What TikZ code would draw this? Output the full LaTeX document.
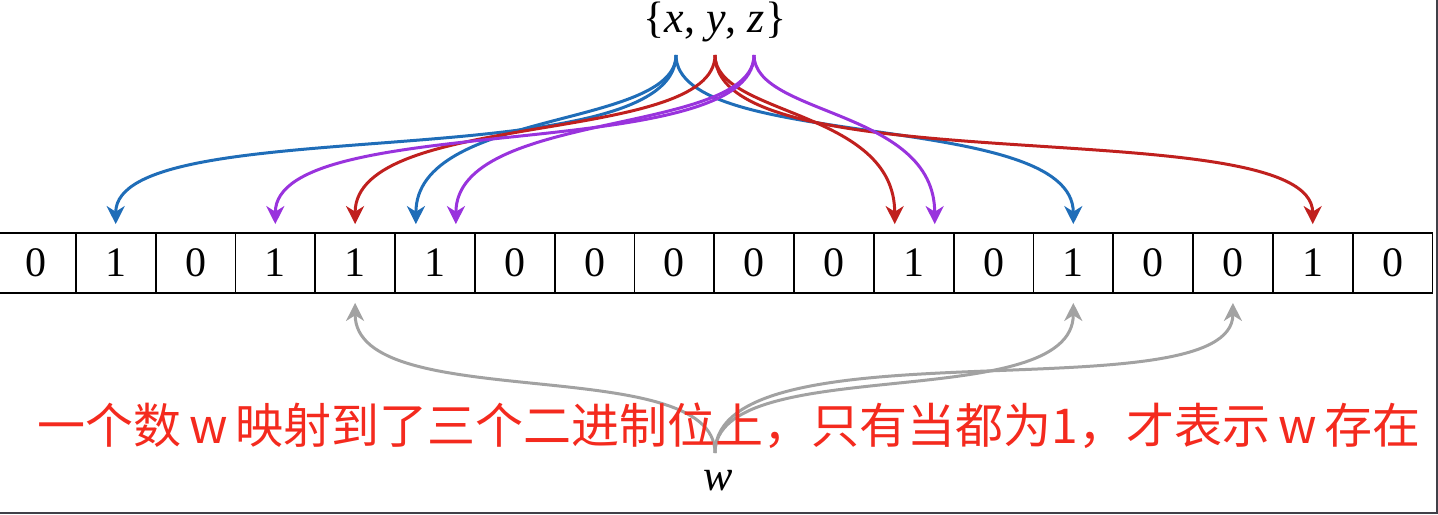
\documentclass[tikz,border=0pt]{standalone}
\usepackage{fontspec}
\setmainfont{Liberation Serif}
\newfontfamily\cjkfont{Noto Sans CJK SC}
\usepackage{xcolor}
\usepackage{tikz}
\usetikzlibrary{arrows.meta,backgrounds}
\definecolor{xhash}{HTML}{1F6DB8}
\definecolor{yhash}{HTML}{C0201E}
\definecolor{zhash}{HTML}{9933DD}
\definecolor{whash}{HTML}{A2A2A2}
\definecolor{notered}{HTML}{F42A1E}
\definecolor{framecolor}{HTML}{404048}
\tikzset{
  >={Stealth[length=9pt,width=9pt,inset=2.8pt]},
  bit cell/.style={
    draw=black,
    line width=0.9pt,
    minimum width=39.9pt,
    minimum height=30pt,
    inner sep=0pt,
    font=\fontsize{21}{21}\selectfont
  },
  hash arrow/.style={
    line width=1.5pt,
    ->,
    shorten >=4pt
  },
  query arrow/.style={
    draw=whash,
    line width=1.5pt,
    ->,
    shorten >=4.5pt
  },
  set label/.style={
    font=\fontsize{22}{22}\selectfont,
    inner sep=0pt
  },
  note/.style={
    font=\cjkfont\fontsize{24}{24}\selectfont,
    text=notered,
    inner sep=0pt
  },
  frame line/.style={
    draw=framecolor,
    line width=1pt
  }
}
\newcommand{\hashdown}[3]{%
  \begin{scope}[on background layer]
    \foreach \tgt/\dx/\lift in {#3}{
      \draw[hash arrow,draw=#1] (#2) .. controls +(0,\lift) and +(0,-123)
        .. ([xshift=\dx pt]B-\tgt.north);
    }
  \end{scope}
}
\newcommand{\hashup}[2]{%
  \begin{scope}[on background layer]
    \foreach \tgt/\lift in {#2}{
      \draw[query arrow] (#1) .. controls +(0,-\lift) and +(0,122)
        .. (B-\tgt.south);
    }
  \end{scope}
}
\newcommand{\wgap}{\hspace{0.16em}}

\begin{document}
\begin{tikzpicture}[x=0.5pt,y=-0.5pt]
  \useasboundingbox (0,0) rectangle (1438,514);

  \foreach \b [count=\i] in {0,1,0,1,1,1,0,0,0,0,0,1,0,1,0,0,1,0}{
    \node[bit cell] (B-\i) at ({-4+79.8*(\i-0.5)},263) {\b};
  }

  \node[set label] (S) at (715,22) {\{\textit{x}, \textit{y}, \textit{z}\}};
  \coordinate (S-x) at (676,55);
  \coordinate (S-y) at (715,55);
  \coordinate (S-z) at (754,55);

  \node[set label] (W) at (718,481) {\textit{w}};
  \coordinate (S-w) at (715,453);

  \hashdown{xhash}{S-x}{2/0/125, 6/-9.5/74, 14/0/97}
  \hashdown{yhash}{S-y}{5/0/91, 12/-9.5/61, 17/0/132}
  \hashdown{zhash}{S-z}{4/0/111, 6/10.5/81, 12/10.5/61}
  \hashup{S-w}{5/102, 14/102, 16/134}

  \node[note] (N) at (729,426)
    {一个数\wgap w\wgap 映射到了三个二进制位上，只有当都为1，才表示\wgap w\wgap 存在};

  \draw[frame line] (0,512.5) -- (1437,512.5) -- (1437,0);
\end{tikzpicture}
\end{document}
